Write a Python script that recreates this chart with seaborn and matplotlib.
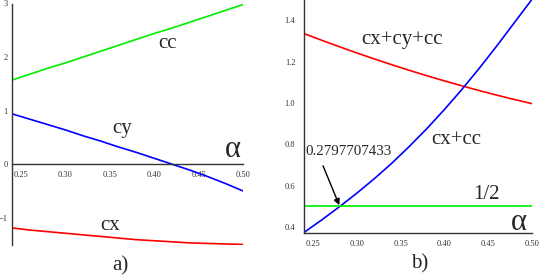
import numpy as np
import pandas as pd
import matplotlib
matplotlib.use("Agg")
import matplotlib.pyplot as plt
import seaborn as sns

# ---- data ----
alpha = [0.24, 0.26, 0.28, 0.30, 0.32, 0.34, 0.36, 0.38, 0.40, 0.42, 0.44, 0.46, 0.48, 0.50]
cc = [1.57, 1.68, 1.79, 1.89, 2.00, 2.11, 2.22, 2.33, 2.44, 2.54, 2.65, 2.76, 2.87, 2.98]
cy = [0.94, 0.84, 0.74, 0.64, 0.53, 0.43, 0.32, 0.22, 0.11, 0.00, -0.11, -0.23, -0.36, -0.50]
cx = [-1.19, -1.23, -1.26, -1.29, -1.32, -1.35, -1.38, -1.41, -1.43, -1.45, -1.47, -1.48, -1.49, -1.50]
sum_all = [1.335, 1.303, 1.272, 1.242, 1.213, 1.185, 1.158, 1.132, 1.107, 1.083, 1.060, 1.038, 1.017, 0.997]
cx_cc = [0.375, 0.435, 0.498, 0.564, 0.634, 0.709, 0.790, 0.876, 0.968, 1.065, 1.168, 1.276, 1.388, 1.500]
half = [0.5] * len(alpha)
root = 0.2797707433

xticks = [0.25, 0.30, 0.35, 0.40, 0.45, 0.50]
xticklabels = ["0.25", "0.30", "0.35", "0.40", "0.45", "0.50"]
yticks_a = [-1, 0, 1, 2, 3]
yticklabels_a = ["\u22121", "0", "1", "2", "3"]
yticks_b = [0.4, 0.6, 0.8, 1.0, 1.2, 1.4]
yticklabels_b = ["0.4", "0.6", "0.8", "1.0", "1.2", "1.4"]

df = pd.DataFrame({"alpha": alpha, "cc": cc, "cy": cy, "cx": cx,
                   "sum": sum_all, "cxcc": cx_cc, "half": half})

sns.set_style("white")
plt.rcParams["font.family"] = ["Liberation Serif", "DejaVu Serif"]

W, H = 540, 277
fig = plt.figure(figsize=(W / 100, H / 100), dpi=100)

def px_axes(x0, y_top, x1, y_bot):
    return fig.add_axes([x0 / W, 1 - y_bot / H, (x1 - x0) / W, (y_bot - y_top) / H])

GREEN, BLUE, RED = "#00ee00", "#0000ff", "#ff0000"
LW = 1.2

# ---- panel a ----
ax = px_axes(12, 3.5, 243, 244.5)
sns.lineplot(data=df, x="alpha", y="cc", ax=ax, color=GREEN, lw=LW)
sns.lineplot(data=df, x="alpha", y="cy", ax=ax, color=BLUE, lw=LW)
sns.lineplot(data=df, x="alpha", y="cx", ax=ax, color=RED, lw=LW)
ax.set_xlim(0.24, 0.50)
ax.set_ylim(-1.5, 3.0)
ax.spines["bottom"].set_position(("data", 0))
for s in ["top", "right"]:
    ax.spines[s].set_visible(False)
for s in ["left", "bottom"]:
    ax.spines[s].set_color("#333333")
    ax.spines[s].set_linewidth(1.0)
ax.set_xticks(xticks, xticklabels)
ax.set_yticks(yticks_a, yticklabels_a)
ax.tick_params(length=0, labelsize=6, colors="#333333")
ax.tick_params(axis="x", pad=5)
ax.tick_params(axis="y", pad=3)
ax.set_xlabel("")
ax.set_ylabel("")
ax.text(0.4145, 2.26, "cc", fontsize=15, ha="center", va="center")
ax.text(0.364, 0.675, "cy", fontsize=15, ha="center", va="center")
ax.text(0.350, -1.136, "cx", fontsize=15, ha="center", va="center")
ax.text(0.4888, 0.265, "\u03b1", fontsize=22, ha="center", va="center")
fig.text(120 / W, 1 - 266 / H, "a)", fontsize=15, ha="center", va="center")

# ---- panel b ----
bx = px_axes(303.7, -0.3, 531.7, 232.7)
sns.lineplot(data=df, x="alpha", y="sum", ax=bx, color=RED, lw=LW)
sns.lineplot(data=df, x="alpha", y="cxcc", ax=bx, color=BLUE, lw=LW)
sns.lineplot(data=df, x="alpha", y="half", ax=bx, color=GREEN, lw=LW)
bx.set_xlim(0.239, 0.50)
bx.set_ylim(0.372, 1.5)
for s in ["top", "right"]:
    bx.spines[s].set_visible(False)
for s in ["left", "bottom"]:
    bx.spines[s].set_color("#333333")
    bx.spines[s].set_linewidth(1.0)
bx.set_xticks(xticks, xticklabels)
bx.set_yticks(yticks_b, yticklabels_b)
bx.tick_params(length=0, labelsize=6, colors="#333333")
bx.tick_params(axis="x", pad=5)
bx.tick_params(axis="y", pad=6)
bx.set_xlabel("")
bx.set_ylabel("")
bx.text(0.3512, 1.306, "cx+cy+cc", fontsize=15, ha="center", va="center")
bx.text(0.4141, 0.8254, "cx+cc", fontsize=15, ha="center", va="center")
bx.text(0.4485, 0.556, "1/2", fontsize=15, ha="center", va="center")
bx.text(0.4847, 0.419, "\u03b1", fontsize=22, ha="center", va="center")
bx.text(0.290, 0.765, f"{root:.10f}", fontsize=10.8, ha="center", va="center")
bx.annotate("", xy=(root, 0.505), xytext=(0.2611, 0.696),
            arrowprops=dict(arrowstyle="-|>", color="black", lw=1.0,
                            mutation_scale=9, shrinkA=0, shrinkB=0))
fig.text(420 / W, 1 - 264 / H, "b)", fontsize=15, ha="center", va="center")

fig.savefig("out.png", dpi=100)
